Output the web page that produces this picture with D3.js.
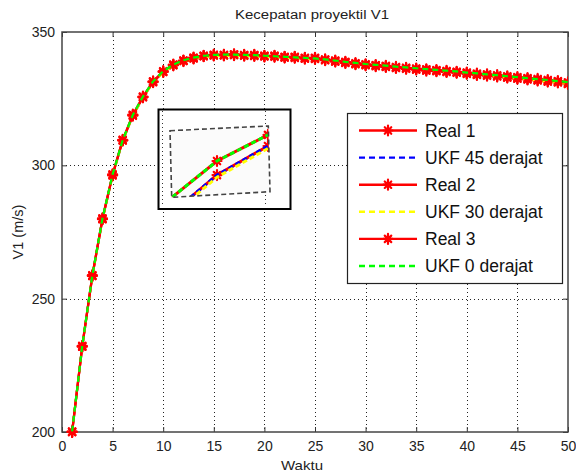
<!DOCTYPE html>
<html>
<head>
<meta charset="utf-8">
<script src="https://cdn.jsdelivr.net/npm/d3@7"></script>
<style>
  body { margin: 0; background: #fff; }
  svg { display: block; font-family: "Liberation Sans", Arial, sans-serif; }
</style>
</head>
<body>
<svg id="chart" width="576" height="473"></svg>
<script>
// data
const waktu = d3.range(1, 51);
const real1 = [200.0, 232.0, 258.6, 279.8, 296.4, 309.3, 318.8, 325.5, 331.3, 335.0,
    337.6, 339.1, 340.2, 340.9, 341.3, 341.2, 341.5, 341.1, 341.3, 340.8,
    341.0, 340.4, 340.6, 340.0, 340.2, 339.4, 339.1, 338.4, 338.1, 337.5,
    337.4, 336.9, 336.7, 336.2, 336.1, 335.5, 335.5, 335.0, 334.9, 334.3,
    334.1, 333.6, 333.5, 332.9, 332.7, 332.2, 332.0, 331.4, 331.3, 330.5];
const real2 = [200.0, 232.1, 258.5, 279.9, 296.2, 309.4, 318.6, 325.6, 331.2, 335.1,
    337.5, 339.2, 340.1, 341.0, 341.2, 341.4, 341.3, 341.3, 341.0, 341.0,
    340.7, 340.6, 340.3, 340.2, 339.9, 339.6, 338.9, 338.6, 337.9, 337.7,
    337.2, 337.1, 336.5, 336.4, 335.9, 335.8, 335.3, 335.2, 334.7, 334.6,
    333.9, 333.9, 333.3, 333.1, 332.5, 332.4, 331.8, 331.6, 331.1, 330.7];
const real3 = [200.2, 232.3, 258.8, 280.1, 296.6, 309.6, 319.0, 325.8, 331.5, 335.3,
    337.8, 339.3, 340.4, 341.1, 341.5, 341.4, 341.6, 341.4, 341.4, 341.1,
    341.1, 340.7, 340.7, 340.3, 340.3, 339.7, 339.3, 338.8, 338.3, 337.9,
    337.6, 337.3, 336.9, 336.6, 336.3, 336.0, 335.7, 335.4, 335.1, 334.8,
    334.4, 334.1, 333.8, 333.4, 333.1, 332.7, 332.4, 332.0, 331.6, 331.1];
const ukf45 = [200.0, 231.9, 258.4, 279.7, 296.2, 309.2, 318.6, 325.4, 331.1, 334.9,
    337.4, 339.0, 340.0, 340.7, 341.0, 341.1, 341.1, 341.0, 340.9, 340.7,
    340.5, 340.3, 340.1, 339.9, 339.6, 339.2, 338.8, 338.4, 338.0, 337.6,
    337.3, 337.0, 336.7, 336.4, 336.0, 335.7, 335.4, 335.1, 334.8, 334.4,
    334.0, 333.7, 333.3, 333.0, 332.6, 332.2, 331.8, 331.4, 331.0, 330.5];
const ukf30 = [200.0, 231.8, 258.3, 279.6, 296.1, 309.1, 318.5, 325.3, 331.0, 334.8,
    337.3, 338.9, 339.9, 340.6, 340.9, 341.0, 341.0, 340.9, 340.8, 340.6,
    340.4, 340.2, 340.0, 339.8, 339.5, 339.1, 338.7, 338.3, 337.9, 337.5,
    337.2, 336.9, 336.6, 336.3, 335.9, 335.6, 335.3, 335.0, 334.7, 334.3,
    333.9, 333.6, 333.2, 332.9, 332.5, 332.1, 331.7, 331.3, 330.9, 330.4];
const ukf0 = [200.2, 232.3, 258.8, 280.1, 296.6, 309.5, 318.9, 325.8, 331.5, 335.3,
    337.8, 339.4, 340.4, 341.1, 341.4, 341.5, 341.5, 341.4, 341.3, 341.1,
    340.9, 340.7, 340.5, 340.3, 340.1, 339.7, 339.3, 338.8, 338.4, 338.0,
    337.7, 337.4, 337.0, 336.7, 336.4, 336.1, 335.8, 335.5, 335.2, 334.8,
    334.5, 334.1, 333.8, 333.4, 333.1, 332.7, 332.3, 332.0, 331.6, 331.2];

const seriesNames = ['Real 1', 'UKF 45 derajat', 'Real 2', 'UKF 30 derajat', 'Real 3', 'UKF 0 derajat'];
const seriesValues = [real1, ukf45, real2, ukf30, real3, ukf0];
const seriesColors = ['#ff0000', '#0000ff', '#ff0000', '#ffff00', '#ff0000', '#00ff00'];
const seriesIsReal = [true, false, true, false, true, false];

const xTicks = [0, 5, 10, 15, 20, 25, 30, 35, 40, 45, 50];
const yTicks = [200, 250, 300, 350];

// zoomed inset (magnified piece of the curves)
const insetT = [1, 2, 3];
const insetReal1 = [338.4, 339.83, 340.8];
const insetUkf45 = [338.4, 339.83, 340.8];
const insetUkf30 = [338.33, 339.76, 340.72];
const insetReal3 = [338.93, 340.3, 341.17];
const insetUkf0 = [338.93, 340.3, 341.17];

const svg = d3.select('#chart');
const pLeft = 62, pRight = 568, pTop = 32, pBottom = 432;

const x = d3.scaleLinear().domain([0, 50]).range([pLeft, pRight]);
const y = d3.scaleLinear().domain([200, 350]).range([pBottom, pTop]);

// grid
const grid = svg.append('g')
    .attr('stroke', '#222')
    .attr('stroke-width', 1)
    .attr('stroke-dasharray', '1,3');
grid.selectAll('.gx')
    .data(xTicks.slice(1, -1))
    .enter()
    .append('line')
    .attr('x1', (d) => Math.round(x(d)) + 0.5)
    .attr('x2', (d) => Math.round(x(d)) + 0.5)
    .attr('y1', pTop)
    .attr('y2', pBottom);
grid.selectAll('.gy')
    .data(yTicks.slice(1, -1))
    .enter()
    .append('line')
    .attr('y1', (d) => Math.round(y(d)) + 0.5)
    .attr('y2', (d) => Math.round(y(d)) + 0.5)
    .attr('x1', pLeft)
    .attr('x2', pRight);

// axes (ticks inside, on all four sides)
const axisStyle = (g) => {
    g.select('.domain').remove();
    g.selectAll('.tick line').attr('stroke', '#333').attr('stroke-width', 1);
    g.selectAll('.tick text')
        .attr('fill', '#222')
        .style('font-size', '14px')
        .style('font-family', '"Liberation Sans", Arial, sans-serif');
};
svg.append('g')
    .attr('transform', `translate(0,${pBottom})`)
    .call(d3.axisBottom(x).tickValues(xTicks).tickSizeInner(-5).tickPadding(9))
    .call(axisStyle);
svg.append('g')
    .attr('transform', `translate(0,${pTop})`)
    .call(d3.axisTop(x).tickValues(xTicks).tickSizeInner(-5).tickFormat(''))
    .call(axisStyle);
svg.append('g')
    .attr('transform', `translate(${pLeft},0)`)
    .call(d3.axisLeft(y).tickValues(yTicks).tickSizeInner(-5).tickPadding(7))
    .call(axisStyle);
svg.append('g')
    .attr('transform', `translate(${pRight},0)`)
    .call(d3.axisRight(y).tickValues(yTicks).tickSizeInner(-5).tickFormat(''))
    .call(axisStyle);

// frame
svg.append('rect')
    .attr('x', pLeft)
    .attr('y', pTop)
    .attr('width', pRight - pLeft)
    .attr('height', pBottom - pTop)
    .attr('fill', 'none')
    .attr('stroke', '#444')
    .attr('stroke-width', 1.5);

svg.append('clipPath')
    .attr('id', 'plotclip')
    .append('rect')
    .attr('x', pLeft - 8)
    .attr('y', pTop)
    .attr('width', pRight - pLeft + 8)
    .attr('height', pBottom - pTop + 8);

// asterisk marker like matlab '*'
const star = (g, cx, cy, r) => {
    const p = d3.path();
    p.moveTo(cx, cy - r); p.lineTo(cx, cy + r);
    p.moveTo(cx - r * 0.9, cy); p.lineTo(cx + r * 0.9, cy);
    const k = r * 0.65;
    p.moveTo(cx - k, cy - k); p.lineTo(cx + k, cy + k);
    p.moveTo(cx - k, cy + k); p.lineTo(cx + k, cy - k);
    g.append('path')
        .attr('d', p.toString())
        .attr('stroke', '#ff0000')
        .attr('stroke-width', 2.2)
        .attr('stroke-linecap', 'round')
        .attr('fill', 'none');
};

const line = d3.line()
    .x((d, i) => x(waktu[i]))
    .y((d) => y(d));

const plot = svg.append('g').attr('clip-path', 'url(#plotclip)');
seriesValues.forEach((vals, si) => {
    plot.append('path')
        .datum(vals)
        .attr('d', line)
        .attr('fill', 'none')
        .attr('stroke', seriesColors[si])
        .attr('stroke-width', 2.2)
        .attr('stroke-dasharray', seriesIsReal[si] ? null : '6,4');
    if (seriesIsReal[si]) {
        const mk = plot.append('g');
        vals.forEach((v, i) => star(mk, x(waktu[i]), y(v), 5));
    }
});

// inset
const inset = svg.append('g');
inset.append('rect')
    .attr('x', 158.5)
    .attr('y', 109.5)
    .attr('width', 132)
    .attr('height', 99.5)
    .attr('fill', '#fff')
    .attr('stroke', '#000')
    .attr('stroke-width', 2);
inset.selectAll('.ig')
    .data([162.5, 265.5])
    .enter()
    .append('line')
    .attr('x1', (d) => d)
    .attr('x2', (d) => d)
    .attr('y1', 111)
    .attr('y2', 207)
    .attr('stroke', '#333')
    .attr('stroke-dasharray', '1,3');

const quad = [[170, 130.7], [268.3, 126], [270, 191.7], [171.7, 197.3]];
inset.append('clipPath')
    .attr('id', 'insetclip')
    .append('polygon')
    .attr('points', quad.map((p) => p.join(',')).join(' '));
inset.append('polygon')
    .attr('points', quad.map((p) => p.join(',')).join(' '))
    .attr('fill', '#fbfbfb')
    .attr('stroke', 'none');

const ix = d3.scaleLinear().domain([1, 3]).range([166, 268]);
const iy = d3.scaleLinear().domain([338, 342]).range([230, 110]);
const iline = d3.line()
    .x((d, i) => ix(insetT[i]))
    .y((d) => iy(d));
const insetSeries = [
    [insetReal1, '#ff0000', true],
    [insetUkf45, '#0000ff', false],
    [insetUkf30, '#ffff00', false],
    [insetReal3, '#ff0000', true],
    [insetUkf0, '#00ff00', false]
];
const ig = inset.append('g').attr('clip-path', 'url(#insetclip)');
insetSeries.forEach(([vals, col, isReal]) => {
    ig.append('path')
        .datum(vals)
        .attr('d', iline)
        .attr('fill', 'none')
        .attr('stroke', col)
        .attr('stroke-width', 3)
        .attr('stroke-dasharray', isReal ? null : '5,3');
    if (isReal) {
        const mk = ig.append('g');
        vals.forEach((v, i) => star(mk, ix(insetT[i]), iy(v), 5));
    }
});
inset.append('polygon')
    .attr('points', quad.map((p) => p.join(',')).join(' '))
    .attr('fill', 'none')
    .attr('stroke', '#444')
    .attr('stroke-width', 1.6)
    .attr('stroke-dasharray', '5,3');

// legend
const legend = svg.append('g');
legend.append('rect')
    .attr('x', 347.5)
    .attr('y', 113.5)
    .attr('width', 215)
    .attr('height', 170)
    .attr('fill', '#fff')
    .attr('stroke', '#222')
    .attr('stroke-width', 1.2);
const rowY = (i) => 130.5 + i * 27.1;
const rows = legend.selectAll('.row')
    .data(seriesNames)
    .enter()
    .append('g')
    .attr('class', 'row');
rows.append('line')
    .attr('x1', 359)
    .attr('x2', 417)
    .attr('y1', (d, i) => rowY(i))
    .attr('y2', (d, i) => rowY(i))
    .attr('stroke', (d, i) => seriesColors[i])
    .attr('stroke-width', 2.4)
    .attr('stroke-dasharray', (d, i) => seriesIsReal[i] ? null : '6,4');
rows.each(function (d, i) {
    if (seriesIsReal[i]) star(d3.select(this), 388, rowY(i), 5);
});
rows.append('text')
    .attr('x', 425)
    .attr('y', (d, i) => rowY(i) + 6.3)
    .attr('fill', '#111')
    .style('font-size', '17.5px')
    .text((d) => d);

// title and labels
svg.append('text')
    .attr('x', 312)
    .attr('y', 18.5)
    .attr('text-anchor', 'middle')
    .attr('fill', '#222')
    .attr('textLength', 154)
    .attr('lengthAdjust', 'spacingAndGlyphs')
    .style('font-size', '12.5px')
    .text('Kecepatan proyektil V1');
svg.append('text')
    .attr('x', 302)
    .attr('y', 470)
    .attr('text-anchor', 'middle')
    .attr('fill', '#222')
    .attr('textLength', 42)
    .attr('lengthAdjust', 'spacingAndGlyphs')
    .style('font-size', '13.5px')
    .text('Waktu');
svg.append('text')
    .attr('transform', `translate(23,${(pTop + pBottom) / 2}) rotate(-90)`)
    .attr('text-anchor', 'middle')
    .attr('fill', '#222')
    .style('font-size', '14.5px')
    .text('V1 (m/s)');
</script>
</body>
</html>
